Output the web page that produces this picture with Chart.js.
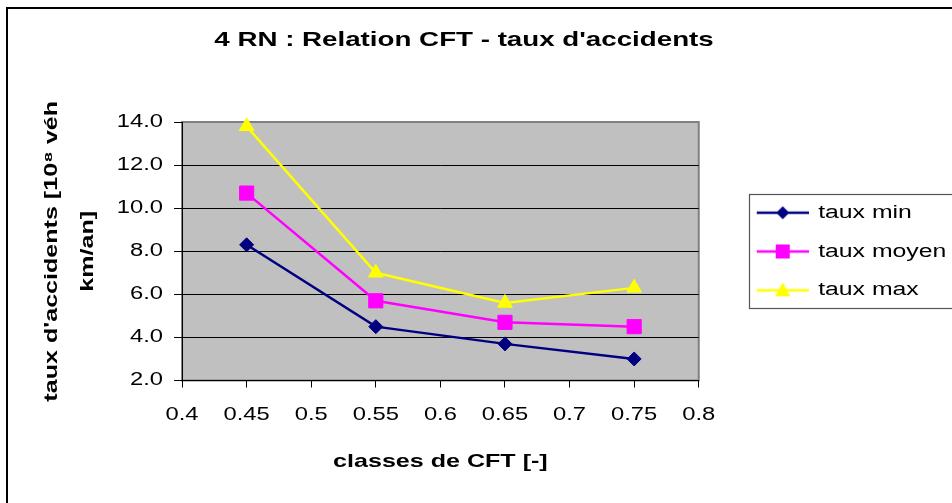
<!DOCTYPE html>
<html>
<head>
<meta charset="utf-8">
<script src="https://cdn.jsdelivr.net/npm/chart.js@4"></script>
<style>
html,body{margin:0;padding:0;background:#fff;overflow:hidden}
canvas{display:block}
</style>
</head>
<body>
<canvas id="c" width="952" height="503" style="width:952px;height:503px"></canvas>
<script>
// ---- data ----
const cftClasses = [0.45, 0.55, 0.65, 0.75];
const tauxMin = [8.3, 4.5, 3.7, 3.0];
const tauxMoyen = [10.7, 5.7, 4.7, 4.5];
const tauxMax = [13.8, 7.0, 5.6, 6.3];
const seriesNames = ['taux min', 'taux moyen', 'taux max'];
const xTickValues = [0.4, 0.45, 0.5, 0.55, 0.6, 0.65, 0.7, 0.75, 0.8];
const xTickLabels = ['0.4', '0.45', '0.5', '0.55', '0.6', '0.65', '0.7', '0.75', '0.8'];
const yTickValues = [2, 4, 6, 8, 10, 12, 14];
const yTickLabels = ['2.0', '4.0', '6.0', '8.0', '10.0', '12.0', '14.0'];
const chartTitle = "4 RN : Relation CFT - taux d'accidents";
const xTitle = 'classes de CFT [-]';
const yTitle = ["taux d'accidents [10\u2078 véh", 'km/an]'];

// ---- text rendered with the reference's wide letterforms ----
const SX = 1.32;
const canvas = document.getElementById('c');
const ctx = canvas.getContext('2d');
const protoFill = CanvasRenderingContext2D.prototype.fillText;
const protoMeasure = CanvasRenderingContext2D.prototype.measureText;
ctx.fillText = function (text, x, y, maxWidth) {
  this.save();
  this.translate(x, y);
  this.scale(SX, 1);
  if (maxWidth !== undefined && maxWidth !== null) protoFill.call(this, text, 0, 0, maxWidth / SX);
  else protoFill.call(this, text, 0, 0);
  this.restore();
};
ctx.measureText = function (text) {
  const m = protoMeasure.call(this, text);
  return {
    width: m.width * SX,
    actualBoundingBoxLeft: m.actualBoundingBoxLeft * SX,
    actualBoundingBoxRight: m.actualBoundingBoxRight * SX,
    actualBoundingBoxAscent: m.actualBoundingBoxAscent,
    actualBoundingBoxDescent: m.actualBoundingBoxDescent,
    fontBoundingBoxAscent: m.fontBoundingBoxAscent,
    fontBoundingBoxDescent: m.fontBoundingBoxDescent
  };
};

const FAMILY = "'Liberation Sans', Arial, sans-serif";
const colors = ['#000080', '#FF00FF', '#FFFF00'];
const shapes = ['rectRot', 'rect', 'triangle'];
const radii = [7, 10, 8.5];

function legendIcon(color, shape) {
  const c = document.createElement('canvas');
  c.width = 90; c.height = 20;
  const g = c.getContext('2d');
  g.strokeStyle = color; g.lineWidth = 2.5;
  g.beginPath(); g.moveTo(38, 10); g.lineTo(90, 10); g.stroke();
  g.fillStyle = color;
  g.beginPath();
  const cx = 64, cy = 10;
  if (shape === 'rectRot') { g.moveTo(cx - 6.5, cy); g.lineTo(cx, cy - 6.5); g.lineTo(cx + 6.5, cy); g.lineTo(cx, cy + 6.5); }
  else if (shape === 'rect') { g.rect(cx - 7, cy - 7, 14, 14); }
  else { g.moveTo(cx, cy - 8); g.lineTo(cx + 7.5, cy + 6); g.lineTo(cx - 7.5, cy + 6); }
  g.closePath(); g.fill();
  return c;
}
const legendIcons = colors.map((c, i) => legendIcon(c, shapes[i]));

const seriesValues = [tauxMin, tauxMoyen, tauxMax];
const datasets = seriesNames.map((name, i) => ({
  label: name,
  data: cftClasses.map((x, j) => ({ x: x, y: seriesValues[i][j] })),
  borderColor: colors[i],
  backgroundColor: colors[i],
  borderWidth: 2.5,
  pointStyle: shapes[i],
  pointRadius: radii[i],
  pointBorderWidth: 1,
  pointBorderColor: colors[i],
  pointBackgroundColor: colors[i],
  tension: 0,
  clip: false
}));

const decor = {
  id: 'decor',
  beforeDraw(chart) {
    const c = chart.ctx, a = chart.chartArea;
    c.save();
    c.fillStyle = '#c0c0c0';
    c.fillRect(a.left, a.top, a.right - a.left, a.bottom - a.top);
    c.strokeStyle = '#808080';
    c.lineWidth = 2;
    c.strokeRect(a.left, a.top, a.right - a.left, a.bottom - a.top);
    c.restore();
  },
  afterDraw(chart) {
    const c = chart.ctx;
    c.save();
    c.fillStyle = '#000';
    c.fillRect(6, 7, 2, 496);
    c.fillRect(6, 7, 946, 2);
    const lg = chart.legend, hb = lg.legendHitBoxes;
    if (hb && hb.length) {
      const top = Math.round(hb[0].top - 9.5) + 0.5;
      const bottom = Math.round(hb[hb.length - 1].top + 27.5) + 0.5;
      const left = Math.round(lg.left + 50) + 0.5;
      c.strokeStyle = '#555';
      c.lineWidth = 1.2;
      c.strokeRect(left, top, 400, bottom - top);
    }
    c.restore();
  }
};

Chart.defaults.color = '#000';
Chart.defaults.font.family = FAMILY;

new Chart(ctx, {
  type: 'line',
  data: { datasets: datasets },
  options: {
    responsive: false,
    animation: false,
    devicePixelRatio: 1,
    events: [],
    layout: { padding: { left: -28.3, right: -4.3, top: 0, bottom: 0 } },
    plugins: {
      title: {
        display: true,
        text: chartTitle,
        color: '#000',
        font: { family: FAMILY, size: 21, weight: 'bold' },
        padding: { top: 27.4, bottom: 69.4 }
      },
      legend: {
        position: 'right',
        align: 'center',
        maxWidth: 400,
        labels: {
          usePointStyle: true,
          pointStyleWidth: 90,
          padding: 20,
          color: '#000',
          font: { family: FAMILY, size: 18.8 },
          generateLabels(chart) {
            const items = Chart.defaults.plugins.legend.labels.generateLabels(chart);
            items.forEach((it, i) => { it.pointStyle = legendIcons[i]; it.lineWidth = 0; });
            return items;
          }
        }
      },
      tooltip: { enabled: false }
    },
    scales: {
      x: {
        type: 'linear',
        min: xTickValues[0],
        max: xTickValues[xTickValues.length - 1],
        afterBuildTicks(s) { s.ticks = xTickValues.map(v => ({ value: v })); },
        ticks: {
          padding: 16.7,
          color: '#000',
          font: { family: FAMILY, size: 18 },
          maxRotation: 0,
          autoSkip: false,
          callback(v, i) { return xTickLabels[i]; }
        },
        grid: { drawOnChartArea: false, drawTicks: true, tickLength: 7, tickColor: '#000', color: '#000' },
        border: { display: true, color: '#000', width: 1 },
        title: {
          display: true,
          text: xTitle,
          color: '#000',
          font: { family: FAMILY, size: 19, weight: 'bold' },
          padding: { top: 8.1, bottom: 29.6 }
        }
      },
      y: {
        type: 'linear',
        min: yTickValues[0],
        max: yTickValues[yTickValues.length - 1],
        afterBuildTicks(s) { s.ticks = yTickValues.map(v => ({ value: v })); },
        ticks: {
          padding: 11,
          color: '#000',
          font: { family: FAMILY, size: 18 },
          autoSkip: false,
          callback(v, i) { return yTickLabels[i]; }
        },
        grid: {
          drawTicks: true,
          tickLength: 8,
          tickColor: '#000',
          color: (c) => (c.index === yTickValues.length - 1 || c.index === 0) ? 'rgba(0,0,0,0)' : '#000',
          lineWidth: 1
        },
        border: { display: true, color: '#000', width: 1 },
        title: {
          display: true,
          text: yTitle,
          color: '#000',
          font: { family: FAMILY, size: 19, weight: 'bold', lineHeight: 1.9 },
          padding: { top: 61.7, bottom: 0.2 }
        }
      }
    }
  },
  plugins: [decor]
});
</script>
</body>
</html>
